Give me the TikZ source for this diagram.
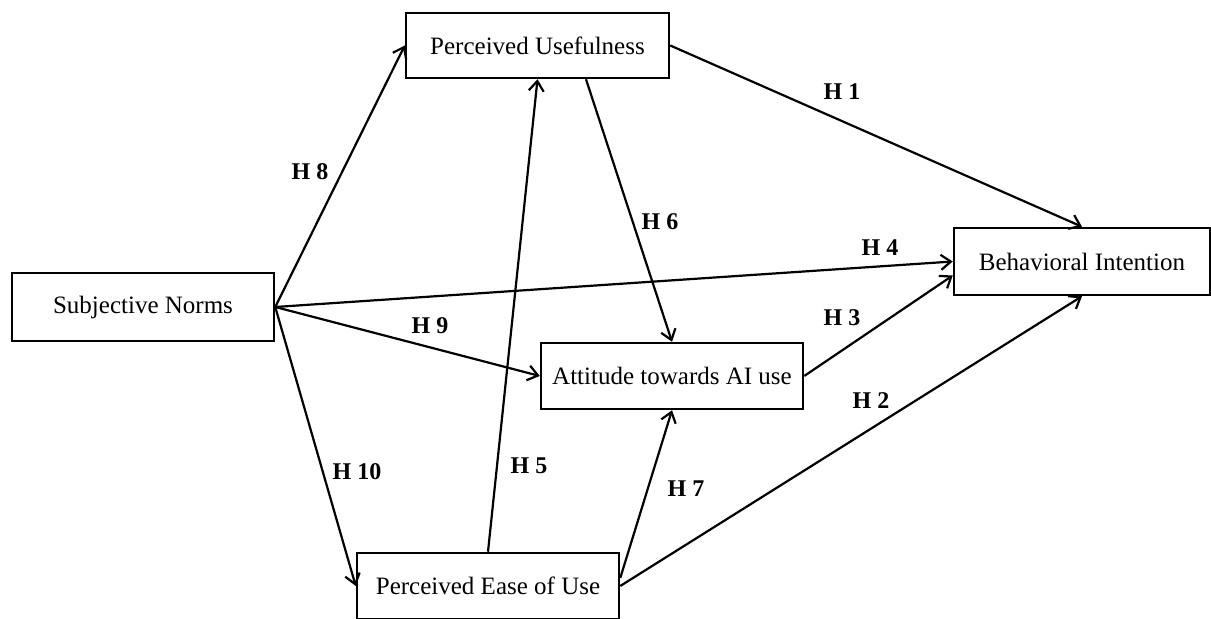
\documentclass[tikz,border=0pt]{standalone}
\usepackage{fontspec}
\setmainfont{Liberation Serif}
\usetikzlibrary{arrows.meta,calc}
\begin{document}
\begin{tikzpicture}[x=0.5pt,y=-0.5pt,
  box/.style={draw,line width=1.25pt,inner sep=0pt,font=\fontsize{12.5}{14}\selectfont,minimum height=33pt},
  link/.style={line width=1.1pt,-{Straight Barb[length=5pt,width=7.5pt,line width=1.1pt]}},
  hlab/.style={font=\fontsize{12}{14}\selectfont\bfseries,inner sep=0pt}]
\useasboundingbox (0,0) rectangle (1211,619);
\node[box,minimum width=131.5pt,minimum height=32.5pt] (pu) at (537.5,45.5) {Perceived Usefulness};
\node[box,minimum width=131pt,minimum height=34pt] (sn) at (143,307) {Subjective Norms};
\node[box,minimum width=128pt,minimum height=33.5pt] (bi) at (1082,261.5) {Behavioral Intention};
\node[box,minimum width=131pt,minimum height=33pt] (att) at (672,376) {Attitude towards AI use};
\node[box,minimum width=131pt,minimum height=33pt] (peu) at (488,586) {Perceived Ease of Use};
\coordinate (pus) at ($(pu.south)+(48.5,0)$);
\coordinate (biw) at ($(bi.west)+(0,14)$);
\coordinate (peue) at ($(peu.east)+(0,-8)$);
\draw[link] (sn.east) -- (pu.west);
\draw[link] (sn.east) -- (bi.west);
\draw[link] (sn.east) -- (att.west);
\draw[link] (sn.east) -- (peu.west);
\draw[link] (peu.north) -- (pu.south);
\draw[link] (pus) -- (att.north);
\draw[link] (pu.east) -- (bi.north);
\draw[link] (att.east) -- (biw);
\draw[link] (peu.east) -- (bi.south);
\draw[link] (peue) -- (att.south);
\node[hlab] (h1) at (842,92) {H 1};
\node[hlab] (h2) at (871,401) {H 2};
\node[hlab] (h3) at (842,318) {H 3};
\node[hlab] (h4) at (880,248) {H 4};
\node[hlab] (h5) at (529,466) {H 5};
\node[hlab] (h6) at (660,222) {H 6};
\node[hlab] (h7) at (686,489) {H 7};
\node[hlab] (h8) at (310,172) {H 8};
\node[hlab] (h9) at (430,326) {H 9};
\node[hlab] (h10) at (357,472) {H 10};
\end{tikzpicture}
\end{document}
